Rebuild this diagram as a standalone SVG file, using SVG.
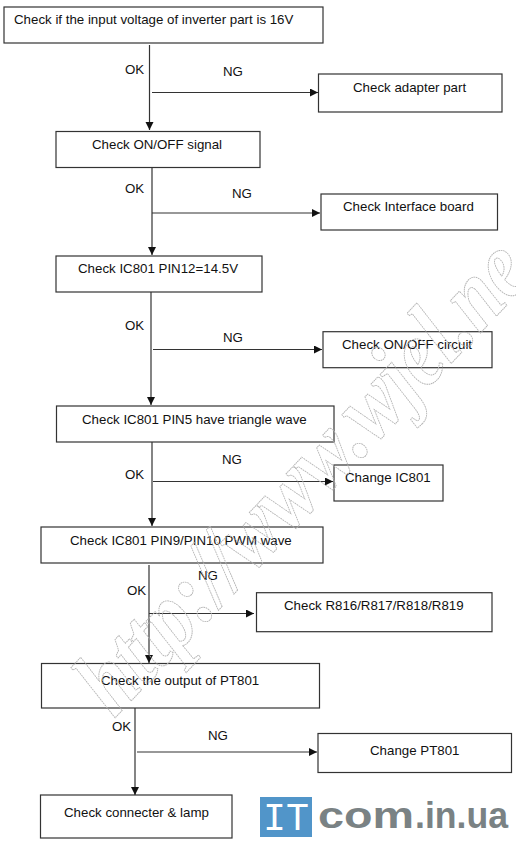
<svg xmlns="http://www.w3.org/2000/svg" width="516" height="842" viewBox="0 0 516 842">
<style>
.b{fill:#fff;stroke:#333;stroke-width:1.2}
.t{font-family:"Liberation Sans",Arial,sans-serif;font-size:13.3px;fill:#111}
.c{fill:none;stroke:#333;stroke-width:1.2}
.w{font-family:"Liberation Serif","Times New Roman",serif;font-style:italic;font-weight:bold;font-size:80px;fill:none;stroke:#b4b4b4;stroke-width:.8;stroke-dasharray:1.5 .6}
</style>
<defs><marker id="a" markerUnits="userSpaceOnUse" markerWidth="9" markerHeight="9" refX="8" refY="4" orient="auto"><path d="M0 0L8 4L0 8Z" fill="#111"/></marker></defs>
<rect width="516" height="842" fill="#fff"/>
<g id="n1"><rect class="b" x="4" y="7" width="319" height="36"/><text class="t" x="14" y="24">Check if the input voltage of inverter part is 16V</text></g>
<g id="n2"><rect class="b" x="318.500" y="74" width="183.500" height="38"/><text class="t" x="353" y="92">Check adapter part</text></g>
<g id="n3"><rect class="b" x="56" y="131.500" width="204" height="36"/><text class="t" x="92" y="149">Check ON/OFF signal</text></g>
<g id="n4"><rect class="b" x="321" y="194" width="176.500" height="36"/><text class="t" x="343" y="211">Check Interface board</text></g>
<g id="n5"><rect class="b" x="56" y="256" width="206" height="36"/><text class="t" x="78" y="273">Check IC801 PIN12=14.5V</text></g>
<g id="n6"><rect class="b" x="323" y="331.700" width="169" height="36"/><text class="t" x="342" y="349">Check ON/OFF circuit</text></g>
<g id="n7"><rect class="b" x="56.500" y="406" width="277.500" height="36"/><text class="t" x="82" y="424">Check IC801 PIN5 have triangle wave</text></g>
<g id="n8"><rect class="b" x="334" y="465" width="109" height="36"/><text class="t" x="345" y="482">Change IC801</text></g>
<g id="n9"><rect class="b" x="41" y="527" width="282" height="36"/><text class="t" x="70" y="545">Check IC801 PIN9/PIN10 PWM wave</text></g>
<g id="n10"><rect class="b" x="256.500" y="592.700" width="235.500" height="39"/><text class="t" x="284" y="610">Check R816/R817/R818/R819</text></g>
<g id="n11"><rect class="b" x="41.500" y="663.500" width="278" height="44.500"/><text class="t" x="101" y="685">Check the output of PT801</text></g>
<g id="n12"><rect class="b" x="318" y="733.500" width="193.500" height="39"/><text class="t" x="370" y="755">Change PT801</text></g>
<g id="n13"><rect class="b" x="40.500" y="795" width="191.500" height="43"/><text class="t" x="64" y="817">Check connecter &amp; lamp</text></g>
<g id="connectors">
<path class="c" marker-end="url(#a)" d="M149.500 45V130"/>
<path class="c" marker-end="url(#a)" d="M152 92.500H318"/>
<path class="c" marker-end="url(#a)" d="M152 168V255"/>
<path class="c" marker-end="url(#a)" d="M152 213H320"/>
<path class="c" marker-end="url(#a)" d="M151 292V405"/>
<path class="c" marker-end="url(#a)" d="M153 349.500H322"/>
<path class="c" marker-end="url(#a)" d="M152 442V526"/>
<path class="c" marker-end="url(#a)" d="M153 481.500H333"/>
<path class="c" marker-end="url(#a)" d="M149 565V663"/>
<path class="c" marker-end="url(#a)" d="M149 613.500H254"/>
<path class="c" marker-end="url(#a)" d="M135 708V795"/>
<path class="c" marker-end="url(#a)" d="M137 752H317"/>
</g>
<g id="labels">
<text class="t" x="125" y="74">OK</text><text class="t" x="223" y="76">NG</text>
<text class="t" x="125" y="193">OK</text><text class="t" x="232" y="198">NG</text>
<text class="t" x="125" y="330">OK</text><text class="t" x="223" y="342">NG</text>
<text class="t" x="125" y="479">OK</text><text class="t" x="222" y="464">NG</text>
<text class="t" x="127" y="595">OK</text><text class="t" x="198" y="580">NG</text>
<text class="t" x="112" y="731">OK</text><text class="t" x="208" y="740">NG</text>
</g>
<text class="w" transform="translate(114 719) rotate(-46.500) scale(1 1.2)">http://www.wjel.ne</text>
<g id="logo">
<rect x="260" y="797" width="52" height="40" fill="#5195c9"/>
<text x="263" y="830" font-family="'Liberation Mono',monospace" font-size="38" fill="#fff" textLength="46" lengthAdjust="spacingAndGlyphs">IT</text>
<text x="318" y="828" font-family="'Liberation Sans',sans-serif" font-weight="bold" font-size="37" fill="#7a8284" textLength="96" lengthAdjust="spacingAndGlyphs">com</text>
<text x="415" y="828" font-family="'Liberation Sans',sans-serif" font-weight="bold" font-size="37" fill="#7a8284" textLength="93" lengthAdjust="spacingAndGlyphs">.in.ua</text>
</g>
</svg>
